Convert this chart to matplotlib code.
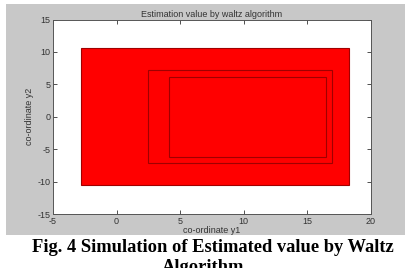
import matplotlib
matplotlib.use("Agg")
from matplotlib import pyplot as plt
from matplotlib.patches import Rectangle

plt.rcParams["axes.unicode_minus"] = False
plt.rcParams["font.family"] = ["Liberation Sans", "DejaVu Sans"]

# rectangles: (x0, x1, y0, y1)
rect_x0 = [-2.8, 2.5, 4.1]
rect_x1 = [18.3, 16.9, 16.5]
rect_y0 = [-10.5, -7.1, -6.2]
rect_y1 = [10.6, 7.2, 6.1]

x_ticks = [-5, 0, 5, 10, 15, 20]
y_ticks = [-15, -10, -5, 0, 5, 10, 15]

title = "Estimation value by waltz algorithm"
xlabel = "co-ordinate y1"
ylabel = "co-ordinate y2"
caption1 = "Fig. 4 Simulation of Estimated value by Waltz"
caption2 = "Algorithm"

W, H = 405, 268
fig = plt.figure(figsize=(W / 100, H / 100), dpi=100)
fig.patch.set_facecolor("white")

# grey matlab figure background
fig.patches.append(Rectangle((6 / W, 1 - 235 / H), (W - 6) / W, 231 / H,
                             transform=fig.transFigure, facecolor="#c8c8c8",
                             edgecolor="none", zorder=-5))

ax = fig.add_axes([53 / W, 1 - 214 / H, 318 / W, 194.5 / H])
ax.set_facecolor("white")

for x0, x1, y0, y1 in zip(rect_x0, rect_x1, rect_y0, rect_y1):
    ax.add_patch(Rectangle((x0, y0), x1 - x0, y1 - y0, facecolor="#ff0000",
                           edgecolor="#a00000", linewidth=0.8))

ax.set_xlim(-5, 20)
ax.set_ylim(-15, 15)
ax.set_xticks(x_ticks)
ax.set_yticks(y_ticks)
ax.tick_params(direction="in", length=3, width=0.6, labelsize=6.5,
               colors="#333333", top=True, right=True, pad=2)
for s in ax.spines.values():
    s.set_color("#555555")
    s.set_linewidth(0.7)

ax.set_title(title, fontsize=6.5, color="#333333", pad=2)
ax.set_xlabel(xlabel, fontsize=6.5, color="#333333", labelpad=0)
ax.set_ylabel(ylabel, fontsize=6.5, color="#333333", labelpad=2)

fig.text(0.525, 1 - 248 / H, caption1, ha="center", va="center",
         family="Liberation Serif", weight="bold", fontsize=13.3)
fig.text(0.5, 1 - 268 / H, caption2, ha="center", va="center",
         family="Liberation Serif", weight="bold", fontsize=13.3)

fig.savefig("out.png", dpi=100)
